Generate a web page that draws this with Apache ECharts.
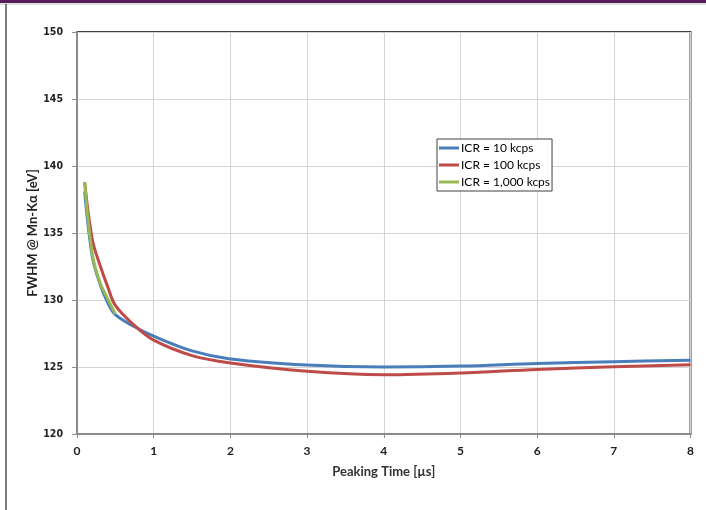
<!DOCTYPE html>
<html>
<head>
<meta charset="utf-8">
<script src="https://cdn.jsdelivr.net/npm/echarts@6/dist/echarts.min.js"></script>
<style>
  html, body { margin: 0; padding: 0; background: #fff; }
  #chart { width: 706px; height: 510px; }
</style>
</head>
<body>
<div id="chart"></div>
<script>
// 峰化时间 [µs] 与 FWHM [eV]
const seriesNames = ['ICR = 10 kcps', 'ICR = 100 kcps', 'ICR = 1,000 kcps'];
const colors = ['#4a7ebb', '#be4b48', '#98b954'];

const time10 = [0.1, 0.2, 0.3, 0.4, 0.5, 0.75, 1, 1.5, 2, 3, 4, 5, 6, 7, 8];
const fwhm10 = [138.1, 133.2, 131.2, 129.8, 128.9, 128.0, 127.3, 126.2, 125.6, 125.15, 125.0, 125.07, 125.27, 125.4, 125.5];

const time100 = [0.1, 0.2, 0.3, 0.4, 0.5, 0.75, 1, 1.5, 2, 3, 4, 5, 6, 7, 8];
const fwhm100 = [138.8, 134.5, 132.6, 131.0, 129.6, 128.1, 127.0, 125.85, 125.3, 124.68, 124.42, 124.55, 124.82, 125.02, 125.17];

const time1000 = [0.1, 0.2, 0.3, 0.4, 0.5];
const fwhm1000 = [138.8, 133.4, 131.3, 130.1, 128.95];

const xTicks = [0, 8, 1];      // min, max, interval
const yTicks = [120, 150, 5];

function pairs(xs, ys) {
  return xs.map((x, i) => [x, ys[i]]);
}

var myChart = echarts.init(document.getElementById('chart'));

const option = {
  animation: false,
  color: colors,
  graphic: [
    { type: 'rect', shape: { x: 0, y: 0, width: 706, height: 3 }, style: { fill: '#581c5c' } },
    { type: 'line', shape: { x1: 0, y1: 4, x2: 706, y2: 4 }, style: { stroke: '#b8c0b8', lineWidth: 1 } },
    { type: 'line', shape: { x1: 6, y1: 4, x2: 6, y2: 510 }, style: { stroke: '#555', lineWidth: 1.5 } }
  ],
  grid: {
    left: 77, right: 15.5, top: 32, bottom: 76,
    show: true, borderColor: '#404040', borderWidth: 2, backgroundColor: '#fff'
  },
  legend: {
    data: seriesNames,
    orient: 'vertical',
    left: 437, top: 139,
    width: 116,
    padding: [2, 2, 2, 2],
    itemGap: 3,
    itemWidth: 20, itemHeight: 3,
    icon: 'rect',
    borderColor: '#404040', borderWidth: 1,
    backgroundColor: '#fff',
    textStyle: { fontFamily: 'Lato', fontSize: 12, color: '#000', lineHeight: 14, padding: [0, 0, 0, -3] }
  },
  xAxis: {
    type: 'value',
    min: xTicks[0], max: xTicks[1], interval: xTicks[2],
    name: 'Peaking Time [µs]',
    nameLocation: 'middle', nameGap: 31,
    nameTextStyle: { fontFamily: 'Lato', fontWeight: 'bold', fontSize: 13, color: '#333' },
    axisLine: { show: true, onZero: false, lineStyle: { color: '#8c8c8c', width: 2 } },
    axisTick: { show: true, length: 4, lineStyle: { color: '#8c8c8c' } },
    axisLabel: { fontFamily: 'Lato', fontWeight: 'bold', fontSize: 12, color: '#222', margin: 11 },
    splitLine: { show: true, lineStyle: { color: '#d4d4d4', width: 1 } }
  },
  yAxis: {
    type: 'value',
    min: yTicks[0], max: yTicks[1], interval: yTicks[2],
    name: 'FWHM @ Mn-Kα [eV]',
    nameLocation: 'middle', nameGap: 38,
    nameMoveOverlap: false,
    nameTextStyle: { fontFamily: 'Lato', fontWeight: 'bold', fontSize: 13, color: '#222' },
    axisLine: { show: true, lineStyle: { color: '#8c8c8c', width: 2 } },
    axisTick: { show: true, length: 5, lineStyle: { color: '#8c8c8c' } },
    axisLabel: { fontFamily: 'DejaVu Sans Condensed, DejaVu Sans', fontWeight: 'bold', fontSize: 10.5, color: '#222', margin: 14 },
    splitLine: { show: true, lineStyle: { color: '#d4d4d4', width: 1 } }
  },
  series: [
    { name: seriesNames[0], type: 'line', data: pairs(time10, fwhm10), smooth: 0.35, showSymbol: false, lineStyle: { width: 3 }, z: 3 },
    { name: seriesNames[1], type: 'line', data: pairs(time100, fwhm100), smooth: 0.35, showSymbol: false, lineStyle: { width: 3 }, z: 4 },
    { name: seriesNames[2], type: 'line', data: pairs(time1000, fwhm1000), smooth: 0.35, showSymbol: false, lineStyle: { width: 3 }, z: 5 }
  ]
};
myChart.setOption(option);
</script>
</body>
</html>
